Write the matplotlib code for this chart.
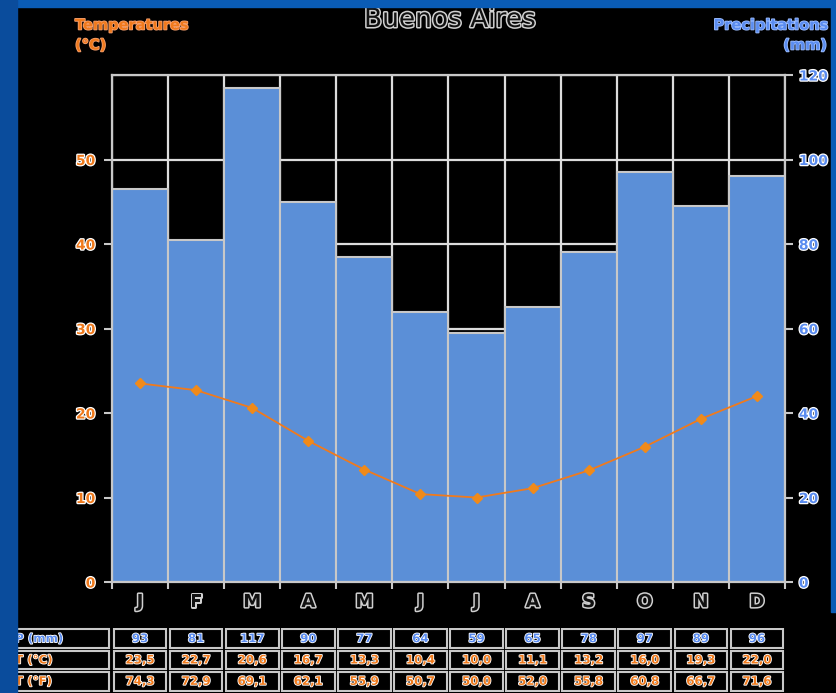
import numpy as np
import matplotlib
matplotlib.use("Agg")
import matplotlib.pyplot as plt
import matplotlib.patheffects as pe
from matplotlib.patches import Rectangle

# Donnees climatiques de Buenos Aires
mois = ['J', 'F', 'M', 'A', 'M', 'J', 'J', 'A', 'S', 'O', 'N', 'D']
precip = [93, 81, 117, 90, 77, 64, 59, 65, 78, 97, 89, 96]
temp_c = [23.5, 22.7, 20.6, 16.7, 13.3, 10.4, 10.0, 11.1, 13.2, 16.0, 19.3, 22.0]
temp_f = [74.3, 72.9, 69.1, 62.1, 55.9, 50.7, 50.0, 52.0, 55.8, 60.8, 66.7, 71.6]
precip_ticks = [0, 20, 40, 60, 80, 100, 120]
temp_ticks = [0, 10, 20, 30, 40, 50]

W, H = 837, 693
bleu_barre = '#5b8fd7'
bleu_txt = '#5a8cf0'
orange = '#f07a1c'
gris = '#c8c8c8'

def contour(c='white', w=1.8):
    return [pe.withStroke(linewidth=w, foreground=c)]

fig = plt.figure(figsize=(W / 100, H / 100), dpi=100, facecolor='black')

# position du graphique en pixels
x0, x1, y0, y1 = 112, 785, 75, 582
ax = fig.add_axes([x0 / W, 1 - y1 / H, (x1 - x0) / W, (y1 - y0) / H])
ax.set_facecolor('black')
n = len(mois)
x = np.arange(n)
ax.set_xlim(-0.5, n - 0.5)
ax.set_ylim(0, 120)

# grille blanche derriere les barres
for v in precip_ticks[1:]:
    ax.axhline(v, color='#dcdcdc', lw=1.6, zorder=0)
for b in np.arange(-0.5, n, 1.0):
    ax.axvline(b, color='#dcdcdc', lw=1.6, zorder=0)

ax.bar(x, precip, width=1.0, color=bleu_barre, edgecolor=gris, linewidth=1.5, zorder=2)

ax.set_xticks(x)
ax.set_xticklabels(mois, fontsize=13, fontweight='bold', color='#111111')
for t in ax.get_xticklabels():
    t.set_path_effects(contour('#d0d0d0', 2.2))
ax.tick_params(axis='x', length=0, pad=8)
ax.set_xticks(np.arange(-0.5, n, 1.0), minor=True)
ax.tick_params(axis='x', which='minor', length=5, width=1.5, colors=gris)
for s in ax.spines.values():
    s.set_color(gris)
    s.set_linewidth(1.6)

# temperatures sur l'axe de gauche
ax2 = ax.twinx()
ax2.set_ylim(0, 60)
ax2.plot(x, temp_c, color=orange, lw=1.3, marker='D', markersize=5,
         markerfacecolor='#f08a1a', markeredgecolor='#f08a1a', zorder=5)
ax2.yaxis.tick_left()
ax2.set_yticks(temp_ticks)
ax2.set_yticklabels([str(v) for v in temp_ticks], fontweight='bold', fontsize=10)
for t in ax2.get_yticklabels():
    t.set_path_effects(contour())
ax2.tick_params(axis='y', colors=gris, length=6, width=1.5, labelcolor=orange, pad=6,
                left=True, right=False, labelleft=True, labelright=False)
for s in ax2.spines.values():
    s.set_visible(False)

# precipitations sur l'axe de droite (apres twinx)
ax.yaxis.tick_right()
ax.set_yticks(precip_ticks)
ax.set_yticklabels([str(v) for v in precip_ticks], fontweight='bold', fontsize=10)
for t in ax.get_yticklabels():
    t.set_path_effects(contour())
ax.tick_params(axis='y', colors=gris, length=6, width=1.5, labelcolor=bleu_txt, pad=4,
               left=False, right=True, labelleft=False, labelright=True)

# titres
fig.text(450 / W, 1 - 20 / H, 'Buenos Aires', ha='center', va='center', fontsize=19,
         color='#111111', path_effects=contour('#d0d0d0', 2.2))
fig.text(75 / W, 1 - 25 / H, 'Temperatures', ha='left', va='center', fontsize=10.5,
         fontweight='bold', color=orange, path_effects=contour('#f5a070', 1.2))
fig.text(75 / W, 1 - 45 / H, '(°C)', ha='left', va='center', fontsize=10.5,
         fontweight='bold', color=orange, path_effects=contour('#f5a070', 1.2))
fig.text(829 / W, 1 - 25 / H, 'Precipitations', ha='right', va='center', fontsize=10.5,
         fontweight='bold', color=bleu_txt, path_effects=contour('#a0c0ff', 1.2))
fig.text(827 / W, 1 - 45 / H, '(mm)', ha='right', va='center', fontsize=10.5,
         fontweight='bold', color=bleu_txt, path_effects=contour('#a0c0ff', 1.2))

# tableau des valeurs
ty0, ty1 = 628, 692
xl = -0.5 - (x0 - 0) / ((x1 - x0) / n)
tab = fig.add_axes([0, 1 - ty1 / H, x1 / W, (ty1 - ty0) / H])
tab.set_xlim(xl, n - 0.5)
tab.set_ylim(3, 0)
tab.axis('off')
lignes = [
    ('P (mm)', [str(v) for v in precip], bleu_txt),
    ('T (°C)', [f'{v:.1f}'.replace('.', ',') for v in temp_c], orange),
    ('T (°F)', [f'{v:.1f}'.replace('.', ',') for v in temp_f], orange),
]
lab_x0 = xl + (14 / ((x1 - x0) / n))
for i, (lab, vals, c) in enumerate(lignes):
    tab.add_patch(Rectangle((lab_x0, i + 0.06), -0.55 - lab_x0, 0.88, fill=False,
                            edgecolor=gris, lw=1.5, clip_on=False))
    tab.text(lab_x0 + 0.02, i + 0.5, lab, ha='left', va='center', fontsize=8.5,
             fontweight='bold', color=c, path_effects=contour('white', 1.2))
    for j, v in enumerate(vals):
        tab.add_patch(Rectangle((j - 0.47, i + 0.06), 0.94, 0.88, fill=False,
                                edgecolor=gris, lw=1.5))
        tab.text(j, i + 0.5, v, ha='center', va='center', fontsize=8.5,
                 fontweight='bold', color=c, path_effects=contour('white', 1.2))

# bandes bleues du fond de diapositive
fig.patches.append(Rectangle((0, 1 - 7 / H), 1, 7 / H, transform=fig.transFigure,
                             color='#0a5cb6', zorder=10))
fig.patches.append(Rectangle((0, 0), 17 / W, 1, transform=fig.transFigure,
                             color='#0a4c9c', zorder=10))
fig.patches.append(Rectangle((831 / W, 1 - 612 / H), 6 / W, 612 / H, transform=fig.transFigure,
                             color='#0a5cb6', zorder=10))

fig.savefig('out.png', dpi=100, facecolor='black')
